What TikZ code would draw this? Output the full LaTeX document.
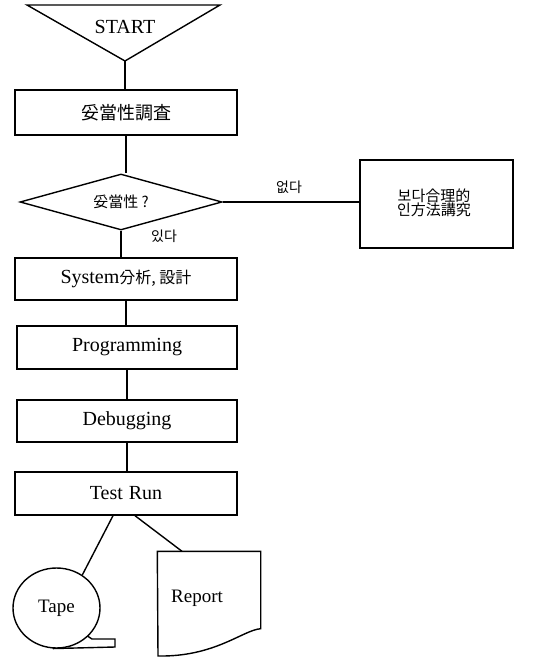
\documentclass[tikz,border=0pt]{standalone}
\usepackage{fontspec}
\setmainfont{Liberation Serif}
\newfontfamily\cjkfont{Noto Sans CJK KR}
\newcommand{\ck}[2]{{\cjkfont\fontsize{#1}{#1}\selectfont #2}}
\usetikzlibrary{shapes.geometric}
\begin{document}
\begin{tikzpicture}[x=1pt,y=-1pt,line width=1.4pt,
  box/.style={draw,rectangle,minimum width=222pt,minimum height=43pt,inner sep=0pt,
    font=\fontsize{20}{22}\selectfont},
  lab/.style={font=\fontsize{20}{22}\selectfont,inner sep=0pt},
  conn/.style={line width=1.4pt}]
\useasboundingbox (0,0) rectangle (548,660);
% START triangle
\coordinate (tl) at (27,5);
\coordinate (tr) at (220,5);
\coordinate (apex) at (125,61);
\draw (tl) -- (tr) -- (apex) -- cycle;
\node[lab] (start) at (125,27) {START};
% boxes
\node[box,minimum height=45pt] (b1) at (126,112.5) {\ck{18}{妥當性調査}};
\node[draw,diamond,aspect=3.6,minimum width=202pt,minimum height=56pt,inner sep=0pt] (d) at (121,202) {};
\node[lab] (dtext) at (121,202) {\ck{15}{妥當性 ?}};
\node[draw,rectangle,minimum width=153pt,minimum height=88pt,inner sep=0pt] (r) at (436.5,204) {};
\node[align=center,inner sep=0pt] (rtext) at (434,203) {\ck{15}{보다合理的}\\[-1pt]\ck{15}{인方法講究}};
\node[lab] (no) at (289,187) {\ck{14}{없다}};
\node[lab] (yes) at (164,236) {\ck{14}{있다}};
\node[box,minimum height=42pt] (sys) at (126,279) {System\ck{16}{分析, 設計}};
\node[box,minimum width=220pt] (prog) at (127,347.5) {Programming};
\node[box,minimum width=220pt,minimum height=42pt] (dbg) at (127,421) {Debugging};
\node[box] (test) at (126,493.5) {Test\hspace{6pt}Run};
% tape
\node[draw,ellipse,minimum width=87pt,minimum height=80pt,inner sep=0pt,
  font=\fontsize{19}{21}\selectfont] (tape) at (56.5,608) {Tape};
\draw (tape.-42) -- (92,639) -- (115,639) -- (115,647) -- (tape.-95);
% report
\node[minimum width=102pt,minimum height=76pt,inner sep=0pt] (rep) at (209,590) {};
\draw (rep.north west) -- (rep.north east) -- (rep.south east)
  .. controls (243,630) and (215,657) .. (158,656) -- cycle;
\node[lab,font=\fontsize{19}{21}\selectfont] (reptext) at (197,598) {Report};
% connectors
\draw[conn] (apex) -- (apex |- b1.north);
\draw[conn] (b1.south) -- (b1.south |- d.north);
\draw[conn] (d.east) -- (d.east -| r.west);
\draw[conn] (d.south) -- (d.south |- sys.north);
\draw[conn] (sys.south) -- (sys.south |- prog.north);
\draw[conn] (prog.south) -- (prog.south |- dbg.north);
\draw[conn] (dbg.south) -- (dbg.south |- test.north);
\draw[conn] ([xshift=-13pt]test.south) -- (tape.52);
\draw[conn] ([xshift=9pt]test.south) -- ([xshift=-27pt]rep.north);
\end{tikzpicture}
\end{document}
